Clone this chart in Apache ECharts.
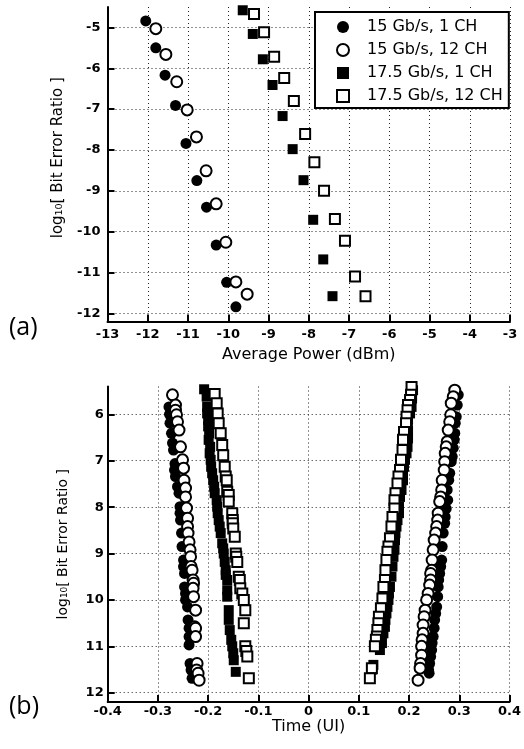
<!DOCTYPE html>
<html>
<head>
<meta charset="utf-8">
<script src="https://cdn.jsdelivr.net/npm/echarts@6/dist/echarts.min.js"></script>
<style>
  html, body { margin: 0; padding: 0; background: #fff; }
  #main { width: 524px; height: 749px; }
</style>
</head>
<body>
<div id="main"></div>
<script>
var seriesNames = ["15 Gb/s, 1 CH", "15 Gb/s, 12 CH", "17.5 Gb/s, 1 CH", "17.5 Gb/s, 12 CH"];

// (a) log10 BER vs average power (dBm)
var powerA1 = [-12.05, -11.80, -11.57, -11.31, -11.05, -10.78, -10.54, -10.30, -10.04, -9.81];
var berA1 = [-4.84, -5.50, -6.17, -6.91, -7.84, -8.75, -9.40, -10.33, -11.24, -11.84];
var powerA2 = [-11.80, -11.55, -11.28, -11.02, -10.79, -10.55, -10.30, -10.06, -9.81, -9.53];
var berA2 = [-5.03, -5.66, -6.33, -7.02, -7.68, -8.51, -9.32, -10.26, -11.23, -11.53];
var powerA3 = [-9.64, -9.39, -9.14, -8.90, -8.65, -8.40, -8.13, -7.89, -7.64, -7.41];
var berA3 = [-4.58, -5.16, -5.78, -6.41, -7.17, -7.98, -8.74, -9.71, -10.68, -11.58];
var powerA4 = [-9.36, -9.11, -8.86, -8.61, -8.37, -8.09, -7.86, -7.62, -7.35, -7.10, -6.85, -6.59];
var berA4 = [-4.67, -5.12, -5.72, -6.24, -6.80, -7.61, -8.30, -9.00, -9.69, -10.22, -11.10, -11.58];

// (b) bathtub, -log10 BER vs time (UI): left edge (L) and right edge (R)
var timeB1L = [-0.278, -0.277, -0.276, -0.273, -0.271, -0.269, -0.266, -0.267, -0.265, -0.261, -0.258, -0.256, -0.256, -0.255, -0.253, -0.252, -0.249, -0.249, -0.247, -0.247, -0.245, -0.245, -0.241, -0.240, -0.238, -0.238, -0.238, -0.236, -0.234, -0.232];
var berB1L = [5.84, 6.00, 6.19, 6.41, 6.62, 6.77, 7.06, 7.20, 7.34, 7.56, 7.70, 7.99, 8.13, 8.28, 8.56, 8.85, 9.14, 9.28, 9.43, 9.72, 9.86, 10.00, 10.15, 10.43, 10.61, 10.79, 10.97, 11.37, 11.51, 11.69];
var timeB1R = [0.298, 0.298, 0.296, 0.294, 0.292, 0.291, 0.290, 0.288, 0.286, 0.284, 0.281, 0.279, 0.276, 0.277, 0.274, 0.272, 0.271, 0.268, 0.266, 0.265, 0.263, 0.261, 0.259, 0.258, 0.257, 0.255, 0.253, 0.251, 0.250, 0.248, 0.246, 0.245, 0.243, 0.241, 0.239, 0.240];
var berB1R = [5.37, 5.58, 5.80, 6.05, 6.19, 6.41, 6.55, 6.73, 6.91, 7.02, 7.27, 7.42, 7.63, 7.85, 8.03, 8.21, 8.35, 8.56, 8.85, 9.14, 9.28, 9.43, 9.57, 9.72, 9.93, 10.15, 10.29, 10.43, 10.61, 10.79, 10.93, 11.08, 11.22, 11.37, 11.51, 11.58];

var timeB2L = [-0.271, -0.265, -0.265, -0.263, -0.261, -0.258, -0.255, -0.251, -0.249, -0.248, -0.245, -0.245, -0.243, -0.241, -0.241, -0.240, -0.238, -0.236, -0.235, -0.234, -0.232, -0.230, -0.229, -0.230, -0.229, -0.225, -0.227, -0.225, -0.225, -0.222, -0.223, -0.220, -0.218];
var berB2L = [5.58, 5.80, 5.91, 6.01, 6.16, 6.34, 6.70, 6.98, 7.16, 7.42, 7.59, 7.78, 8.02, 8.24, 8.42, 8.56, 8.75, 8.92, 9.07, 9.28, 9.36, 9.57, 9.64, 9.75, 9.93, 10.22, 10.58, 10.61, 10.79, 11.37, 11.51, 11.58, 11.73];
var timeB2R = [0.291, 0.288, 0.284, 0.283, 0.281, 0.278, 0.276, 0.274, 0.272, 0.271, 0.270, 0.266, 0.265, 0.263, 0.261, 0.258, 0.257, 0.255, 0.253, 0.250, 0.248, 0.246, 0.245, 0.243, 0.243, 0.241, 0.238, 0.235, 0.232, 0.230, 0.228, 0.228, 0.226, 0.225, 0.225, 0.223, 0.222, 0.218];
var berB2R = [5.48, 5.62, 5.76, 6.01, 6.16, 6.34, 6.59, 6.70, 6.84, 7.02, 7.20, 7.42, 7.63, 7.78, 7.88, 8.13, 8.28, 8.42, 8.56, 8.71, 8.92, 9.14, 9.36, 9.43, 9.57, 9.68, 9.86, 10.00, 10.22, 10.36, 10.54, 10.72, 10.86, 11.00, 11.19, 11.37, 11.47, 11.73];

var timeB3L = [-0.208, -0.203, -0.202, -0.202, -0.200, -0.200, -0.198, -0.199, -0.196, -0.197, -0.195, -0.194, -0.192, -0.190, -0.188, -0.187, -0.183, -0.182, -0.181, -0.179, -0.177, -0.175, -0.172, -0.170, -0.169, -0.167, -0.165, -0.165, -0.162, -0.162, -0.162, -0.159, -0.159, -0.157, -0.154, -0.152, -0.150, -0.149, -0.145];
var berB3L = [5.46, 5.62, 5.84, 5.98, 6.12, 6.26, 6.41, 6.55, 6.70, 6.84, 6.98, 7.13, 7.27, 7.42, 7.56, 7.70, 7.85, 7.99, 8.13, 8.28, 8.42, 8.56, 8.78, 8.89, 9.00, 9.18, 9.36, 9.46, 9.57, 9.79, 9.93, 10.22, 10.43, 10.65, 10.86, 11.00, 11.15, 11.30, 11.55];
var timeB3R = [0.208, 0.206, 0.205, 0.202, 0.198, 0.198, 0.198, 0.197, 0.195, 0.192, 0.190, 0.188, 0.188, 0.185, 0.182, 0.180, 0.180, 0.177, 0.175, 0.173, 0.172, 0.171, 0.169, 0.167, 0.165, 0.162, 0.160, 0.159, 0.157, 0.155, 0.153, 0.152, 0.149, 0.145, 0.146, 0.142, 0.129, 0.126];
var berB3R = [5.48, 5.66, 5.84, 5.98, 6.12, 6.34, 6.52, 6.70, 6.84, 6.98, 7.13, 7.27, 7.42, 7.63, 7.78, 7.99, 8.13, 8.28, 8.42, 8.56, 8.71, 8.92, 9.07, 9.28, 9.50, 9.72, 9.86, 10.00, 10.15, 10.29, 10.43, 10.58, 10.72, 10.86, 10.93, 11.08, 11.40, 11.50];

var timeB4L = [-0.187, -0.183, -0.181, -0.179, -0.175, -0.172, -0.170, -0.167, -0.165, -0.163, -0.162, -0.159, -0.159, -0.152, -0.151, -0.151, -0.150, -0.147, -0.145, -0.144, -0.142, -0.139, -0.137, -0.136, -0.132, -0.129, -0.126, -0.129, -0.126, -0.124, -0.122, -0.119];
var berB4L = [5.56, 5.76, 5.98, 6.19, 6.41, 6.66, 6.88, 7.13, 7.34, 7.42, 7.67, 7.74, 7.88, 8.13, 8.28, 8.35, 8.46, 8.64, 9.00, 9.07, 9.18, 9.50, 9.57, 9.75, 9.86, 10.00, 10.22, 10.50, 11.00, 11.10, 11.22, 11.69];
var timeB4R = [0.205, 0.204, 0.202, 0.198, 0.197, 0.195, 0.194, 0.190, 0.188, 0.187, 0.184, 0.182, 0.179, 0.177, 0.173, 0.171, 0.171, 0.167, 0.165, 0.162, 0.159, 0.157, 0.155, 0.153, 0.152, 0.149, 0.147, 0.144, 0.140, 0.139, 0.137, 0.136, 0.134, 0.132, 0.126, 0.122];
var berB4R = [5.41, 5.58, 5.69, 5.80, 5.91, 6.05, 6.19, 6.38, 6.55, 6.77, 6.98, 7.20, 7.34, 7.49, 7.70, 7.85, 8.03, 8.21, 8.42, 8.67, 8.85, 8.96, 9.14, 9.36, 9.57, 9.72, 9.97, 10.18, 10.36, 10.50, 10.65, 10.79, 10.86, 11.00, 11.47, 11.69];

void (function() {
  var chart = echarts.init(document.getElementById("main"));

  function zip(xs, ys) {
    var res = [];
    for (var i = 0; i < xs.length; i++) res.push([xs[i], ys[i]]);
    return res;
  }

  var marks = [
    { symbol: "circle", fill: "#000", border: 0 },
    { symbol: "circle", fill: "#fff", border: 2 },
    { symbol: "rect", fill: "#000", border: 0 },
    { symbol: "rect", fill: "#fff", border: 2 }
  ];
  var dataA = [zip(powerA1, berA1), zip(powerA2, berA2), zip(powerA3, berA3), zip(powerA4, berA4)];
  var dataB = [
    zip(timeB1L, berB1L).concat(zip(timeB1R, berB1R)),
    zip(timeB2L, berB2L).concat(zip(timeB2R, berB2R)),
    zip(timeB3L, berB3L).concat(zip(timeB3R, berB3R)),
    zip(timeB4L, berB4L).concat(zip(timeB4R, berB4R))
  ];

  var series = [];
  for (var p = 0; p < 2; p++) {
    for (var i = 0; i < 4; i++) {
      var isCircle = marks[i].symbol === "circle";
      series.push({
        name: seriesNames[i],
        type: "scatter",
        xAxisIndex: p,
        yAxisIndex: p,
        data: p === 0 ? dataA[i] : dataB[i],
        symbol: marks[i].symbol,
        symbolSize: p === 0 ? (isCircle ? 11 : 10) : (isCircle ? 11 : 10),
        itemStyle: {
          color: marks[i].fill,
          borderColor: "#000",
          borderWidth: marks[i].border,
          opacity: 1
        },
        emphasis: { disabled: true }
      });
    }
  }

  var font = "DejaVu Sans";
  var grid = { type: [1, 3], color: "#222", width: 1 };

  function xAxis(gridIndex, min, max, interval, name, labelMargin, nameGap) {
    return {
      type: "value",
      gridIndex: gridIndex,
      min: min,
      max: max,
      interval: interval,
      name: name,
      nameLocation: "middle",
      nameGap: nameGap,
      nameTextStyle: { fontFamily: font, fontSize: 16, color: "#000" },
      axisLine: { onZero: false, lineStyle: { color: "#000", width: 2 } },
      axisTick: { inside: true, length: 7, lineStyle: { color: "#000", width: 2 } },
      axisLabel: { margin: labelMargin, fontFamily: font, fontWeight: "bold", fontSize: 13, color: "#000" },
      splitLine: { show: true, lineStyle: grid }
    };
  }

  function yAxis(gridIndex, min, max, inverse, nameGap, nameSize, namePad, labelMargin) {
    return {
      type: "value",
      gridIndex: gridIndex,
      min: min,
      max: max,
      inverse: inverse,
      splitNumber: 8,
      name: "log\u2081\u2080[ Bit Error Ratio ]",
      nameLocation: "middle",
      nameGap: nameGap,
      nameTextStyle: { fontFamily: font, fontSize: nameSize, color: "#000", padding: namePad },
      axisLine: { onZero: false, lineStyle: { color: "#000", width: 2 } },
      axisTick: { inside: true, length: 7, lineStyle: { color: "#000", width: 2 } },
      axisLabel: {
        margin: labelMargin, fontFamily: font, fontWeight: "bold", fontSize: 13, color: "#000",
        showMinLabel: false, showMaxLabel: false
      },
      splitLine: { show: true, showMinLine: false, showMaxLine: false, lineStyle: grid }
    };
  }

  var option = {
    backgroundColor: "#fff",
    animation: false,
    title: [
      { text: "(a)", left: 9, top: 315, padding: 0,
        textStyle: { fontFamily: "Open Sans", fontSize: 25, fontWeight: "normal", color: "#000" } },
      { text: "(b)", left: 9, top: 694, padding: 0,
        textStyle: { fontFamily: "Open Sans", fontSize: 25, fontWeight: "normal", color: "#000" } }
    ],
    legend: {
      orient: "vertical",
      left: 315,
      top: 12,
      padding: [6, 6, 3, 21],
      itemGap: 5,
      itemWidth: 12,
      itemHeight: 12,
      selectedMode: false,
      backgroundColor: "#fff",
      borderColor: "#000",
      borderWidth: 2,
      borderRadius: 0,
      data: seriesNames.map(function(n, i) {
        return {
          name: n,
          icon: marks[i].symbol,
          itemStyle: { color: marks[i].fill, borderColor: "#000", borderWidth: marks[i].border }
        };
      }),
      textStyle: { fontFamily: font, fontSize: 16, color: "#000", lineHeight: 18, padding: [0, 0, 0, 13] }
    },
    grid: [
      { left: 107.5, right: 14, top: 7, height: 314.5, show: false },
      { left: 107.7, right: 13, top: 386.5, height: 315.5, show: false }
    ],
    xAxis: [
      xAxis(0, -13, -3, 1, "Average Power (dBm)", 7, 25),
      xAxis(1, -0.4, 0.4, 0.1, "Time (UI)", 3, 15)
    ],
    yAxis: [
      yAxis(0, -12.2, -4.5, false, 42, 15, [0, 0, 0, 13], 7),
      yAxis(1, 5.4, 12.2, true, 37, 14, 0, 4)
    ],
    series: series
  };

  chart.setOption(option);
})();
</script>
</body>
</html>
